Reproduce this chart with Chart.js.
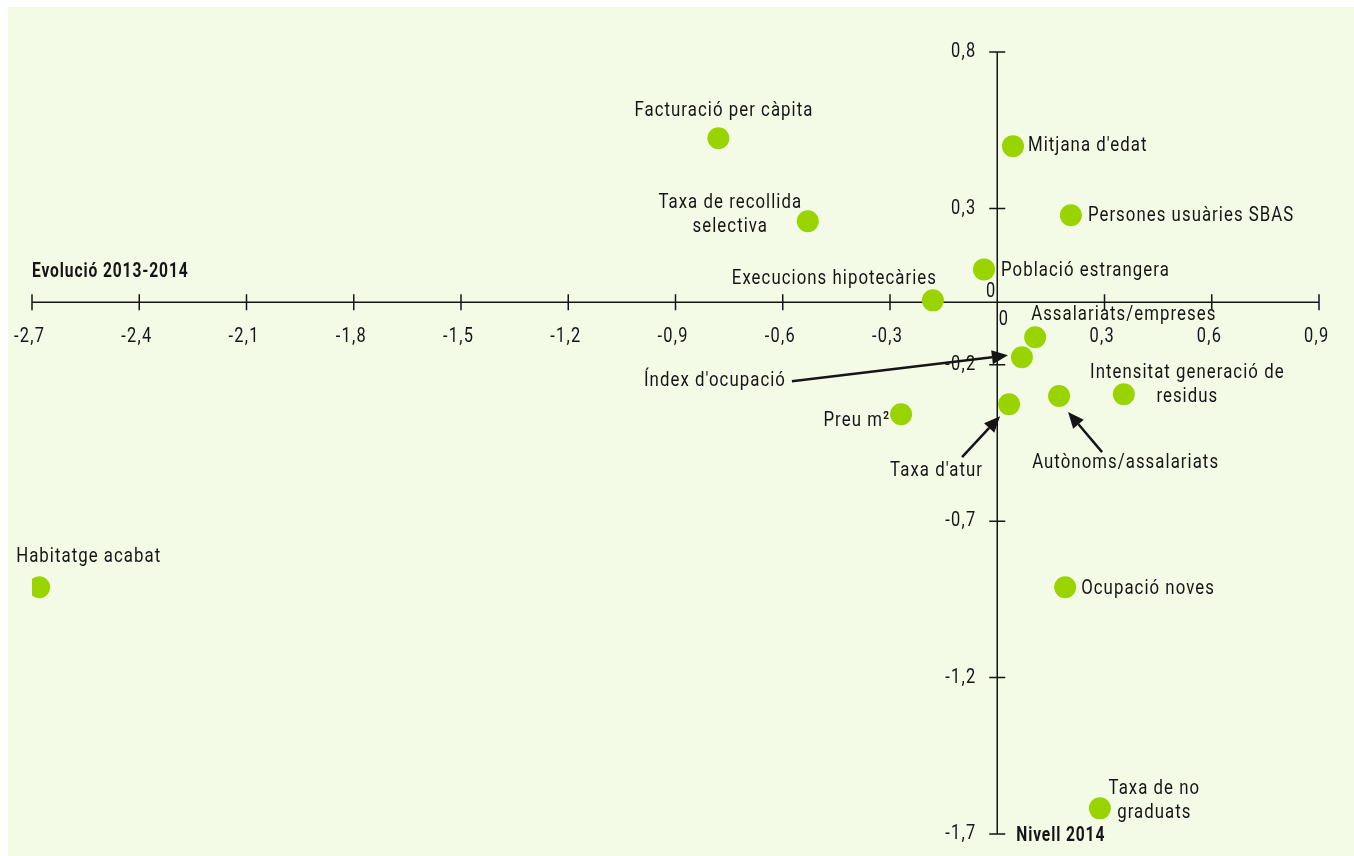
<!DOCTYPE html>
<html><head><meta charset="utf-8">
<script src="https://cdn.jsdelivr.net/npm/chart.js@4.4.1/dist/chart.umd.min.js"></script>
<style>html,body{margin:0;padding:0;background:#fff}#wrap{width:1354px;height:856px}</style>
</head><body><div id="wrap"><canvas id="c" width="1354" height="856"></canvas></div>
<script>
// ---- data ----
const names = ["Facturació per càpita","Mitjana d'edat","Taxa de recollida\nselectiva","Persones usuàries SBAS","Població estrangera","Execucions hipotecàries","Assalariats/empreses","Índex d'ocupació","Intensitat generació de\nresidus","Autònoms/assalariats","Taxa d'atur","Preu m²","Habitatge acabat","Ocupació noves","Taxa de no\ngraduats"];
const xValues = [-0.78, 0.044, -0.53, 0.206, -0.037, -0.18, 0.106, 0.069, 0.354, 0.173, 0.033, -0.269, -2.68, 0.19, 0.287];
const yValues = [0.524, 0.499, 0.259, 0.278, 0.105, 0.006, -0.112, -0.176, -0.294, -0.30, -0.326, -0.358, -0.911, -0.911, -1.618];
const xTicks = [-2.7,-2.4,-2.1,-1.8,-1.5,-1.2,-0.9,-0.6,-0.3,0.3,0.6,0.9];
const yTicks = [0.8,0.3,-0.2,-0.7,-1.2,-1.7];
const xTitle = "Evolució 2013-2014";
const yTitle = "Nivell 2014";

// ---- label layout (pixel offsets from each point) ----
const labelLayout = [
  {dx:5,dy:-28,align:'center'},
  {dx:15,dy:0,align:'left'},
  {dx:-78,dy:-18,align:'center'},
  {dx:17,dy:0,align:'left'},
  {dx:17,dy:1,align:'left'},
  {dx:-99,dy:-22,align:'center'},
  {dx:-4,dy:-23,align:'left'},
  {dx:-237,dy:23,align:'right'},
  {dx:63,dy:-21,align:'center'},
  {dx:66,dy:67,align:'center'},
  {dx:-73,dy:67,align:'center'},
  {dx:-12,dy:7,align:'right'},
  {dx:-23,dy:-30,align:'left'},
  {dx:16,dy:2,align:'left'},
  {dx:54,dy:-20,align:'center'}
];
const arrows = [
  {i:7, tail:[-230,24], tip:[-14,-2]},
  {i:10, tail:[-47,53], tip:[-9,12]},
  {i:9, tail:[43,56], tip:[9,16]}
];

const FONT = 'Roboto, "DejaVu Sans", sans-serif';
const SX = 0.8;
const INK = '#151515';
const fmt = v => String(v).replace('.', ',');

function txt(ctx, s, x, y, align, font, sx, ls){
  ctx.save();
  ctx.font = font;
  ctx.letterSpacing = (ls||0) + 'px';
  ctx.textBaseline = 'middle';
  ctx.textAlign = 'left';
  const w = ctx.measureText(s).width - (ls||0);
  let x0 = 0;
  if (align === 'center') x0 = -w/2; else if (align === 'right') x0 = -w;
  ctx.translate(x, y);
  ctx.scale(sx, 1);
  ctx.fillText(s, x0, 0);
  ctx.restore();
}

const axesPlugin = {
  id:'axesPlugin',
  beforeDraw(chart){
    const ctx = chart.ctx;
    ctx.save();
    ctx.fillStyle = '#ffffff';
    ctx.fillRect(0,0,chart.width,chart.height);
    ctx.fillStyle = '#f3fbe7';
    ctx.fillRect(8,7,chart.width-8,chart.height-7);
    ctx.restore();
  },
  beforeDatasetsDraw(chart){
    const ctx = chart.ctx, xs = chart.scales.x, ys = chart.scales.y;
    const x0 = xs.getPixelForValue(0), y0 = ys.getPixelForValue(0);
    ctx.save();
    ctx.strokeStyle = INK; ctx.lineWidth = 1.5;
    ctx.beginPath();
    ctx.moveTo(xs.left, y0); ctx.lineTo(xs.right, y0);
    ctx.moveTo(x0, ys.top); ctx.lineTo(x0, ys.bottom);
    xTicks.forEach(t=>{const p=xs.getPixelForValue(t); ctx.moveTo(p,y0-8); ctx.lineTo(p,y0+8);});
    yTicks.forEach(t=>{const p=ys.getPixelForValue(t); ctx.moveTo(x0-8,p); ctx.lineTo(x0+8,p);});
    ctx.stroke();
    ctx.fillStyle = INK;
    const tf = '20.5px '+FONT;
    xTicks.forEach(t=>{txt(ctx, fmt(t), xs.getPixelForValue(t)-3, y0+35, 'center', tf, SX, 1.6);});
    txt(ctx, '0', x0+6, y0+18, 'center', tf, SX, 1.6);
    yTicks.forEach(t=>{txt(ctx, fmt(t), x0-22, ys.getPixelForValue(t), 'right', tf, SX, 1.6);});
    txt(ctx, '0', x0-2, y0-10, 'right', tf, SX, 1.6);
    const bf = 'bold 19.5px '+FONT;
    txt(ctx, xTitle, xs.left, y0-30, 'left', bf, SX, 1.1);
    txt(ctx, yTitle, x0+19, ys.bottom+2, 'left', bf, SX, 1.1);
    ctx.restore();
  },
  afterDatasetsDraw(chart){
    const ctx = chart.ctx, xs = chart.scales.x, ys = chart.scales.y;
    ctx.save();
    ctx.fillStyle = INK;
    const lf = '21px '+FONT;
    names.forEach((n,i)=>{
      const px = xs.getPixelForValue(xValues[i]), py = ys.getPixelForValue(yValues[i]);
      const L = labelLayout[i];
      n.split('\n').forEach((line,k)=>{txt(ctx, line, px+L.dx, py+L.dy+k*24, L.align, lf, SX, 1.3);});
    });
    ctx.strokeStyle = INK; ctx.lineWidth = 2.5;
    arrows.forEach(a=>{
      const px = xs.getPixelForValue(xValues[a.i]), py = ys.getPixelForValue(yValues[a.i]);
      const tx = px+a.tail[0], ty = py+a.tail[1], hx = px+a.tip[0], hy = py+a.tip[1];
      const ang = Math.atan2(hy-ty, hx-tx), hl = 16, hw = 7;
      const bx = hx - hl*Math.cos(ang), by = hy - hl*Math.sin(ang);
      ctx.beginPath(); ctx.moveTo(tx,ty); ctx.lineTo(bx,by); ctx.stroke();
      ctx.beginPath();
      ctx.moveTo(hx,hy);
      ctx.lineTo(bx + hw*Math.sin(ang), by - hw*Math.cos(ang));
      ctx.lineTo(bx - hw*Math.sin(ang), by + hw*Math.cos(ang));
      ctx.closePath(); ctx.fill();
    });
    ctx.restore();
  }
};

new Chart(document.getElementById('c'), {
  type:'scatter',
  data:{datasets:[{
    data: xValues.map((x,i)=>({x, y:yValues[i]})),
    backgroundColor:'#99d400', borderWidth:0, pointRadius:11, pointHoverRadius:11
  }]},
  options:{
    responsive:false, animation:false, events:[],
    layout:{padding:{left:32,right:35,top:52,bottom:22}},
    plugins:{legend:{display:false}, tooltip:{enabled:false}},
    scales:{
      x:{type:'linear', min:-2.7, max:0.9, display:false},
      y:{type:'linear', min:-1.7, max:0.8, display:false}
    }
  },
  plugins:[axesPlugin]
});
</script></body></html>
